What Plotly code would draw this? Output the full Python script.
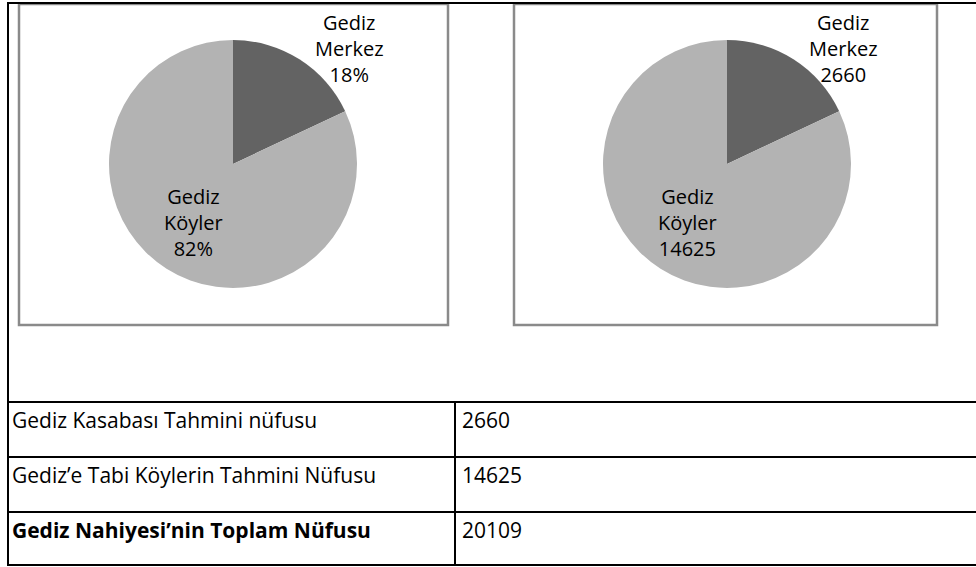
import plotly.graph_objects as go

W, H = 976, 567

# ---- data ----
slice_names = ["Gediz<br>Merkez", "Gediz<br>Köyler"]
shares = [18, 82]                 # percent shares as drawn in the reference
populations = [2660, 14625]       # estimated populations
slice_colors = ["#636363", "#b3b3b3"]

table_labels = ["Gediz Kasabası Tahmini nüfusu",
                "Gediz’e Tabi Köylerin Tahmini Nüfusu",
                "<b>Gediz Nahiyesi’nin Toplam Nüfusu</b>"]
table_values = ["2660", "14625", "20109"]

PIE_FONT = "Open Sans"
TAB_FONT = "Open Sans"

def px(x):
    return x / W

def py(y):
    return 1 - y / H

fig = go.Figure()

pct_text = [f"{round(100 * s / sum(shares))}%" for s in shares]
pop_text = [str(v) for v in populations]

# pies
R = 124
CY = 164
pies = [(233, pct_text), (727, pop_text)]
label_offsets = [(116, 49), (-40, 222)]   # label centre: (dx from pie centre, y in px)
annotations = []
for cx, txt in pies:
    fig.add_trace(go.Pie(
        labels=slice_names, values=shares, text=txt,
        textinfo="none",
        automargin=False,
        sort=False, direction="clockwise", rotation=0,
        marker=dict(colors=slice_colors, line=dict(width=0)),
        showlegend=False, hoverinfo="skip",
        domain=dict(x=[px(cx - R), px(cx + R)], y=[py(CY + R), py(CY - R)]),
    ))
    for k, (dx, yy) in enumerate(label_offsets):
        annotations.append(dict(xref="paper", yref="paper", x=px(cx + dx), y=py(yy),
                                text=f"{slice_names[k]}<br>{txt[k]}", showarrow=False,
                                xanchor="center", yanchor="middle", align="center",
                                font=dict(family=PIE_FONT, size=20, color="black")))

shapes = []
# outer frame (black)
shapes.append(dict(type="line", xref="paper", yref="paper", x0=px(8), x1=1.01, y0=py(3), y1=py(3),
                   line=dict(color="black", width=2)))
shapes.append(dict(type="line", xref="paper", yref="paper", x0=px(8), x1=px(8), y0=py(2), y1=py(565),
                   line=dict(color="black", width=2)))
# table rows
row_y = [402, 457, 512, 565]
for y in row_y:
    shapes.append(dict(type="line", xref="paper", yref="paper", x0=px(7), x1=1.01, y0=py(y), y1=py(y),
                       line=dict(color="black", width=2)))
shapes.append(dict(type="line", xref="paper", yref="paper", x0=px(455), x1=px(455), y0=py(402), y1=py(565),
                   line=dict(color="black", width=2)))
# chart boxes (gray)
for x0, x1 in [(19, 448), (514, 937)]:
    shapes.append(dict(type="rect", xref="paper", yref="paper", x0=px(x0), x1=px(x1), y0=py(325), y1=py(4),
                       line=dict(color="#8a8a8a", width=2.5), fillcolor="rgba(0,0,0,0)", layer="below"))

for i, (lab, val) in enumerate(zip(table_labels, table_values)):
    ytop = row_y[i]
    annotations.append(dict(xref="paper", yref="paper", x=px(10), y=py(ytop + 18), text=lab,
                            showarrow=False, xanchor="left", yanchor="middle",
                            font=dict(family=TAB_FONT, size=21, color="black")))
    annotations.append(dict(xref="paper", yref="paper", x=px(460), y=py(ytop + 18), text=val,
                            showarrow=False, xanchor="left", yanchor="middle",
                            font=dict(family=TAB_FONT, size=21, color="black")))

fig.update_layout(width=W, height=H, margin=dict(l=0, r=0, t=0, b=0, autoexpand=False),
                  paper_bgcolor="white", plot_bgcolor="white",
                  shapes=shapes, annotations=annotations)

fig.write_html("out.html", config={"displayModeBar": False},
               post_script="document.body.style.margin='0';")
